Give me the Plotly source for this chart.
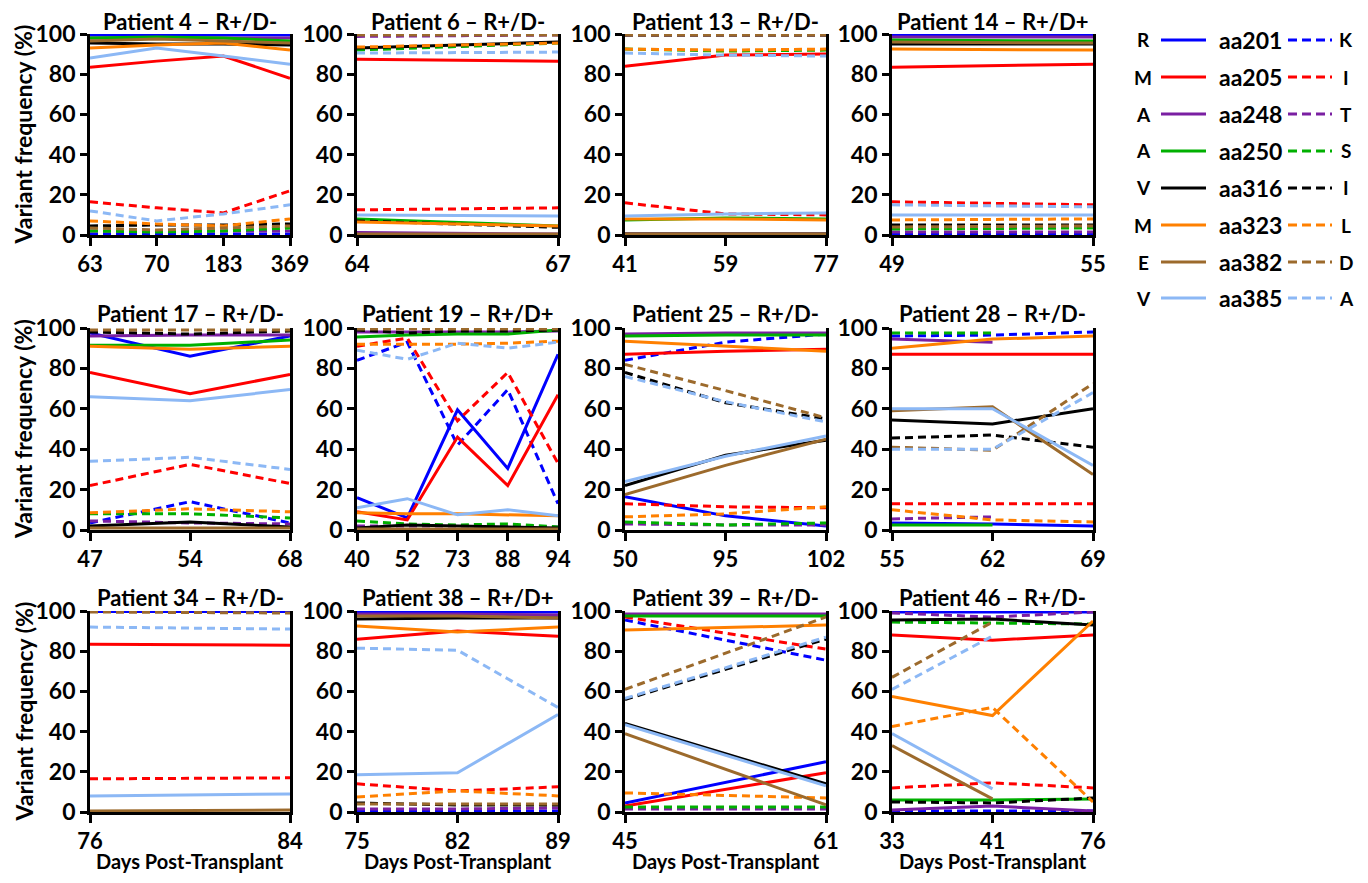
import plotly.graph_objects as go

# ---------------- data ----------------
POSITIONS = ["aa201", "aa205", "aa248", "aa250", "aa316", "aa323", "aa382", "aa385"]
REF_AA = ["R", "M", "A", "A", "V", "M", "E", "V"]
ALT_AA = ["K", "I", "T", "S", "I", "L", "D", "A"]
COLORS = ["#0000FF", "#FF0000", "#7A1FA2", "#00B000", "#000000", "#FF8000", "#9C6A2C", "#8CB8F5"]

P4_DAYS = ["63", "70", "183", "369"]
P4_REF = [[99.5, 99.5, 99.5, 99.5], [83.5, 86.5, 89, 78], [98, 98, 98, 98], [98, 98.5, 98, 96.5],
          [95.5, 95, 95, 94.5], [93, 94.5, 95.5, 92], [96.5, 97.5, 96.5, 95.5], [88, 93, 89, 85]]
P4_ALT = [[0.5, 0.5, 0.5, 0.5], [16.5, 13.5, 11, 22], [2, 2, 2, 2], [2, 1.5, 2, 3.5],
          [4.5, 5, 5, 5.5], [7, 5.5, 4.5, 8], [3.5, 2.5, 3.5, 4.5], [12, 7, 10.5, 15]]

P6_DAYS = ["64", "67"]
P6_REF = [[0.3, 0.3], [87.5, 86.5], [1.2, 0.5], [8, 4.5], [93, 96], [6.5, 4.5], [0.5, 0.5], [10, 9.5]]
P6_ALT = [[99.7, 99.7], [12.5, 13.5], [98.8, 99.5], [92, 95.5], [7, 3.8], [93.5, 95.5], [99.5, 99.5], [90.5, 91]]

P13_DAYS = ["41", "59", "77"]
P13_REF = [[0.3, 0.3, 0.3], [84, 89.5, 90], [0.5, 0.5, 0.5], [7.5, 8.5, 8], [0.5, 0.5, 0.5],
           [8, 8, 7.5], [0.5, 0.5, 0.5], [9.5, 10.5, 11]]
P13_ALT = [[99.7, 99.7, 99.7], [16, 10.5, 10], [99.5, 99.5, 99.5], [92.5, 91.5, 92], [99.5, 99.5, 99.5],
           [92.5, 92, 92.5], [99.5, 99.5, 99.5], [90.5, 89.5, 89]]

P14_DAYS = ["49", "55"]
P14_REF = [[99.7, 99.7], [83.5, 85], [98.5, 98.5], [97, 96.5], [95, 95], [92.5, 92], [96, 95.5], [10, 10]]
P14_ALT = [[0.5, 0.5], [16.5, 15], [1.5, 1.5], [3, 3.5], [5, 5], [7.5, 8], [4, 4.5], [15, 14]]

P17_DAYS = ["47", "54", "68"]
P17_REF = [[97.5, 86, 96], [78, 67.5, 77], [96, 96.5, 96.5], [91.5, 91.5, 94], [2, 4, 1.5],
           [91, 89.5, 91], [1, 1, 1], [66, 64, 69.5]]
P17_ALT = [[3.5, 14, 3.5], [22, 32.5, 23], [4.5, 3.5, 3], [8, 8, 6], [98, 97, 98.5],
           [8.5, 10.5, 9], [99, 99, 99], [34, 36, 30]]

P19_DAYS = ["40", "52", "73", "88", "94"]
P19_REF = [[16, 6, 59.5, 30.5, 87], [9, 5, 46, 22, 67], [98, 98, 98, 98, 98.5], [95.5, 96.5, 97, 97, 99],
           [1, 2.5, 2, 1.5, 1], [8.5, 8, 8, 7.5, 7], [0.5, 0.5, 0.5, 0.5, 0.5], [11, 15.5, 7.5, 10, 7]]
P19_ALT = [[84, 93, 42, 69.5, 13], [91, 95, 54, 78, 33], [2, 2, 2, 2, 1.5], [4.5, 3, 2.5, 3, 1.5],
           [99, 97.5, 98.5, 98.5, 99], [92, 92, 92, 92.5, 93.5], [99.5, 99.5, 99.5, 99.5, 99.5],
           [89, 84.5, 92.5, 90, 93]]

P25_DAYS = ["50", "95", "102"]
P25_REF = [[16.5, 7, 2], [87, 88.5, 89.5], [97, 97.5, 97.5], [96, 96.5, 96.5], [22, 37, 44.5],
           [93.5, 91, 88.5], [17.5, 32, 45], [24, 36.5, 46.5]]
P25_ALT = [[84, 93, 97], [13, 11.5, 11], [3, 2.5, 2.5], [4, 2.5, 3.5], [78, 63, 55],
           [6.5, 8, 11.5], [82, 69, 55.5], [76, 63.5, 53.5]]

P28_DAYS = ["55", "62", "69"]
P28_REF = [[3.5, 3, 2], [87, 87, 87], [94.5, 93, None], [2.5, 2.5, None], [54.5, 52.5, 60],
           [90, 94.5, 96], [59, 61, 27.5], [60, 60, 32]]
P28_ALT = [[96, 96.5, 98], [13, 13, 13], [5.5, 6.5, None], [97.5, 97.5, None], [45.5, 47, 41],
           [10, 5, 4], [41, 39.5, 72.5], [40, 40, 68]]

P34_DAYS = ["76", "84"]
P34_REF = [[99.8, 99.8], [83.5, 83], [None, None], [None, None], [None, None],
           [None, None], [0.5, 1], [8, 9]]
P34_ALT = [[None, None], [16.5, 17], [None, None], [None, None], [None, None],
           [None, None], [99.5, 99], [92, 91]]

P38_DAYS = ["75", "82", "89"]
P38_REF = [[99.5, 99.5, 99.5], [86, 90, 87.5], [98.5, 98.5, 98], [None, None, None], [96, 96.5, 96.5],
           [92.5, 89.5, 92], [97.5, 97.5, 96.5], [18.5, 19.5, 48.5]]
P38_ALT = [[0.5, 0.5, 0.5], [14, 10.5, 12.5], [1.5, 1.5, 2], [None, None, None], [4.5, 3.5, 3.5],
           [7.5, 10.5, 8], [4, 4, 4], [81.5, 80.5, 52]]

P39_DAYS = ["45", "61"]
P39_REF = [[4.5, 25], [3, 19.5], [98.5, 98.5], [97.5, 97.5], [44, 14], [90.5, 93], [39, 3.5], [43.5, 13]]
P39_ALT = [[95.5, 75.5], [97, 81], [1.5, 1.5], [2.5, 2.5], [56, 86], [9.5, 7], [61, 97], [56.5, 87]]

P46_DAYS = ["33", "41", "76"]
P46_REF = [[99.5, 99.5, 99.5], [88, 85.5, 88], [1, 3, 0.5], [6, 6, 6.5], [95.5, 96, 93],
           [57.5, 48, 95], [33, 6.5, None], [39, 11.5, None]]
P46_ALT = [[0.5, 0.5, 0.5], [12, 14.5, 12], [99, 97, 99.5], [94.5, 94, 93.5], [5, 4.5, 7],
           [42.5, 52, 5], [67, 94.5, None], [61, 87.5, None]]

PANELS = [
    ("Patient 4 – R+/D-", P4_DAYS, P4_REF, P4_ALT),
    ("Patient 6 – R+/D-", P6_DAYS, P6_REF, P6_ALT),
    ("Patient 13 – R+/D-", P13_DAYS, P13_REF, P13_ALT),
    ("Patient 14 – R+/D+", P14_DAYS, P14_REF, P14_ALT),
    ("Patient 17 – R+/D-", P17_DAYS, P17_REF, P17_ALT),
    ("Patient 19 – R+/D+", P19_DAYS, P19_REF, P19_ALT),
    ("Patient 25 – R+/D-", P25_DAYS, P25_REF, P25_ALT),
    ("Patient 28 – R+/D-", P28_DAYS, P28_REF, P28_ALT),
    ("Patient 34 – R+/D-", P34_DAYS, P34_REF, P34_ALT),
    ("Patient 38 – R+/D+", P38_DAYS, P38_REF, P38_ALT),
    ("Patient 39 – R+/D-", P39_DAYS, P39_REF, P39_ALT),
    ("Patient 46 – R+/D-", P46_DAYS, P46_REF, P46_ALT),
]

Y_TICKS = [0, 20, 40, 60, 80, 100]

# ---------------- layout helpers ----------------
W, H = 1368, 883
OFF = 8  # default body margin of the page
FW, FH = W - 2 * OFF, H - 2 * OFF
FONT = "Lato, 'Open Sans', sans-serif"
DASH = "8px,5px"
LW = 3


def px(x):
    return (x - OFF) / FW


def py(y):
    return 1 - (y - OFF) / FH


COL_X = [(90, 290), (357, 558), (625, 826), (892, 1093)]
ROW_Y = [(34, 235), (328, 530), (611, 812)]
TITLE_Y = [21, 313, 597]

fig = go.Figure()
annotations = []
shapes = []
layout_axes = {}

for i, (title, days, ref, alt) in enumerate(PANELS):
    r, c = divmod(i, 4)
    x0, x1 = COL_X[c]
    y0, y1 = ROW_Y[r]
    k = i + 1
    xa = "x" if k == 1 else f"x{k}"
    ya = "y" if k == 1 else f"y{k}"
    xs = list(range(len(days)))
    for j in range(len(POSITIONS)):
        fig.add_trace(go.Scatter(x=xs, y=ref[j], mode="lines", xaxis=xa, yaxis=ya,
                                 line=dict(color=COLORS[j], width=LW), showlegend=False,
                                 name=f"{POSITIONS[j]} {REF_AA[j]}", hoverinfo="skip"))
        fig.add_trace(go.Scatter(x=xs, y=alt[j], mode="lines", xaxis=xa, yaxis=ya,
                                 line=dict(color=COLORS[j], width=LW, dash=DASH), showlegend=False,
                                 name=f"{POSITIONS[j]} {ALT_AA[j]}", hoverinfo="skip"))
    xkey = "xaxis" if k == 1 else f"xaxis{k}"
    ykey = "yaxis" if k == 1 else f"yaxis{k}"
    layout_axes[xkey] = dict(
        domain=[px(x0), px(x1)], anchor=ya, range=[0, len(days) - 1], automargin=False,
        tickmode="array", tickvals=xs, ticktext=days,
        showline=True, linecolor="black", linewidth=2.8, ticks="outside", ticklen=8,
        tickwidth=2.8, tickcolor="black", showgrid=False, zeroline=False,
        tickfont=dict(family=FONT, size=22, color="black", weight="bold"),
        ticklabelstandoff=0,
    )
    layout_axes[ykey] = dict(
        domain=[py(y1), py(y0)], anchor=xa, range=[0, 100], automargin=False,
        tickmode="array", tickvals=Y_TICKS,
        showline=True, mirror=True, linecolor="black", linewidth=2.8, ticks="outside",
        ticklen=7, tickwidth=2.8, tickcolor="black", showgrid=False, zeroline=False,
        tickfont=dict(family=FONT, size=23, color="black", weight="bold"),
        ticklabelstandoff=0,
    )
    annotations.append(dict(text=title, x=px((x0 + x1) / 2), y=py(TITLE_Y[r]), xref="paper", yref="paper",
                            showarrow=False, xanchor="center", yanchor="middle",
                            font=dict(family=FONT, size=22, color="black", weight="bold")))
    if c == 0:
        annotations.append(dict(text="Variant frequency (%)", x=px(23), y=py((y0 + y1) / 2),
                                xref="paper", yref="paper", showarrow=False, textangle=-90,
                                xanchor="center", yanchor="middle",
                                font=dict(family=FONT, size=23, color="black", weight="bold")))
    if r == 2:
        annotations.append(dict(text="Days Post-Transplant", x=px((x0 + x1) / 2), y=py(861),
                                xref="paper", yref="paper", showarrow=False,
                                xanchor="center", yanchor="middle",
                                font=dict(family=FONT, size=20, color="black", weight="bold")))

# ---------------- custom legend ----------------
LEG_Y = [40, 77, 114, 151, 188, 225, 262, 298]
for j in range(len(POSITIONS)):
    yy = LEG_Y[j]
    annotations.append(dict(text=REF_AA[j], x=px(1143), y=py(yy), xref="paper", yref="paper",
                            showarrow=False, xanchor="center", yanchor="middle",
                            font=dict(family=FONT, size=19, color="black", weight="bold")))
    shapes.append(dict(type="line", xref="paper", yref="paper", x0=px(1161), x1=px(1206),
                       y0=py(yy), y1=py(yy), line=dict(color=COLORS[j], width=3)))
    annotations.append(dict(text=POSITIONS[j], x=px(1217), y=py(yy), xref="paper", yref="paper",
                            showarrow=False, xanchor="left", yanchor="middle",
                            font=dict(family=FONT, size=23, color="black", weight="bold")))
    shapes.append(dict(type="line", xref="paper", yref="paper", x0=px(1288), x1=px(1332),
                       y0=py(yy), y1=py(yy), line=dict(color=COLORS[j], width=3, dash="9px,5px")))
    annotations.append(dict(text=ALT_AA[j], x=px(1346), y=py(yy), xref="paper", yref="paper",
                            showarrow=False, xanchor="center", yanchor="middle",
                            font=dict(family=FONT, size=19, color="black", weight="bold")))

fig.update_layout(
    width=FW, height=FH, autosize=False,
    margin=dict(l=0, r=0, t=0, b=0, pad=0),
    paper_bgcolor="white", plot_bgcolor="white",
    font=dict(family=FONT, color="black", weight="bold"),
    annotations=annotations, shapes=shapes, showlegend=False,
    **layout_axes,
)

fig.write_html("out.html")
